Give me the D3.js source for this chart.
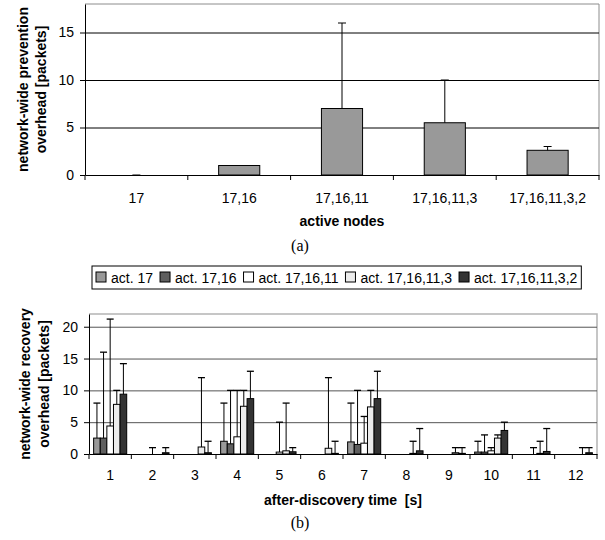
<!DOCTYPE html>
<html>
<head>
<meta charset="utf-8">
<script src="https://cdn.jsdelivr.net/npm/d3@7"></script>
<style>
  body { margin: 0; background: #fff; }
  text { font-family: Arial, "Liberation Sans", sans-serif; }
</style>
</head>
<body>
<svg id="chart" width="605" height="540"></svg>
<script>
// (a) network-wide prevention overhead
let activeNodes = ["17", "17,16", "17,16,11", "17,16,11,3", "17,16,11,3,2"];
let preventionMean = [0, 1, 7, 5.5, 2.6];
let preventionErrTop = [0, 1, 16, 10, 3];
let preventionTicks = [0, 5, 10, 15];

// (b) network-wide recovery overhead
let times = ["1", "2", "3", "4", "5", "6", "7", "8", "9", "10", "11", "12"];
let seriesNames = ["act. 17", "act. 17,16", "act. 17,16,11", "act. 17,16,11,3", "act. 17,16,11,3,2"];
let meanAct17        = [2.5, 0,   0,   2.0, 0,    0,   1.9, 0,   0,   0.3, 0,   0];
let errAct17         = [8,   0,   0,   8,   0,    0,   8,   0,   0,   2,   0,   0];
let meanAct1716      = [2.5, 0,   0,   1.6, 0,    0,   1.5, 0,   0,   0.3, 0,   0];
let errAct1716       = [16,  0,   0,   10,  0,    0,   10,  0,   0,   3,   0,   0];
let meanAct171611    = [4.4, 0,   0,   2.7, 0.3,  0,   1.7, 0,   0,   0.5, 0,   0];
let errAct171611     = [21.2, 1,  0,   10,  5,    0,   5.9, 0,   0,   1,   1,   0];
let meanAct1716113   = [7.8, 0,   1.1, 7.5, 0.5,  0.9, 7.4, 0.1, 0.2, 2.5, 0.1, 0];
let errAct1716113    = [10,  0,   12,  10,  8,    12,  10,  2,   1,   3,   2,   1];
let meanAct17161132  = [9.4, 0.2, 0.2, 8.7, 0.35, 0.1, 8.7, 0.5, 0.1, 3.7, 0.4, 0.2];
let errAct17161132   = [14.2, 1,  2,   13,  1,    2,   13,  4,   1,   5,   4,   1];
let recoveryTicks = [0, 5, 10, 15, 20];

let recMeans = [meanAct17, meanAct1716, meanAct171611, meanAct1716113, meanAct17161132];
let recErrs = [errAct17, errAct1716, errAct171611, errAct1716113, errAct17161132];
let seriesColors = ["#999999", "#5f5f5f", "#ffffff", "#ececec", "#333333"];

let svg = d3.select("#chart");

function styleAxis(g) {
  g.attr("font-family", null).attr("font-size", null);
  g.selectAll("text").style("font-size", "14px").attr("fill", "#000");
  g.selectAll("line").attr("stroke", "#000");
  g.select(".domain").attr("stroke", "#000");
}

// ---------- chart (a) ----------
let pa = {left: 85, right: 599, top: 4, bottom: 175};

let xA = d3.scaleBand()
  .domain(activeNodes)
  .range([pa.left, pa.right]);

let yA = d3.scaleLinear()
  .domain([0, 18])
  .range([pa.bottom, pa.top]);

let gA = svg.append("g");

// plot border (top + right)
gA.append("path")
  .attr("d", `M${pa.left},${pa.top}H${pa.right}V${pa.bottom}`)
  .attr("fill", "none")
  .attr("stroke", "#8c8c8c")
  .attr("stroke-width", 1);

gA.selectAll(".gridA")
  .data(preventionTicks.filter(t => t > 0))
  .join("line")
  .attr("class", "gridA")
  .attr("x1", pa.left).attr("x2", pa.right)
  .attr("y1", d => yA(d) + 0.5).attr("y2", d => yA(d) + 0.5)
  .attr("stroke", "#000");

let barsA = activeNodes.map((c, i) => ({cat: c, mean: preventionMean[i], err: preventionErrTop[i]}));

gA.selectAll(".barA")
  .data(barsA)
  .join("rect")
  .attr("class", "barA")
  .attr("x", d => xA(d.cat) + xA.bandwidth() * 0.3)
  .attr("width", xA.bandwidth() * 0.4)
  .attr("y", d => yA(d.mean))
  .attr("height", d => yA(0) - yA(d.mean))
  .attr("fill", "#999999")
  .attr("stroke", "#000")
  .attr("stroke-width", 1);

gA.selectAll(".errA")
  .data(barsA)
  .join("line")
  .attr("class", "errA")
  .attr("x1", d => xA(d.cat) + xA.bandwidth() / 2)
  .attr("x2", d => xA(d.cat) + xA.bandwidth() / 2)
  .attr("y1", d => yA(d.mean)).attr("y2", d => yA(d.err))
  .attr("stroke", "#000");

gA.selectAll(".capA")
  .data(barsA)
  .join("line")
  .attr("class", "capA")
  .attr("x1", d => xA(d.cat) + xA.bandwidth() / 2 - 4)
  .attr("x2", d => xA(d.cat) + xA.bandwidth() / 2 + 4)
  .attr("y1", d => yA(d.err)).attr("y2", d => yA(d.err))
  .attr("stroke", "#000");

gA.append("g")
  .attr("transform", `translate(${pa.left},0)`)
  .call(d3.axisLeft(yA).tickValues(preventionTicks).tickSize(5).tickSizeOuter(0).tickPadding(6))
  .call(styleAxis);

gA.append("g")
  .attr("transform", `translate(0,${pa.bottom})`)
  .call(d3.axisBottom(xA).tickSize(0).tickSizeOuter(0).tickPadding(18))
  .call(styleAxis);

gA.selectAll(".tickA")
  .data(activeNodes.map(c => xA(c)).concat([pa.right]))
  .join("line")
  .attr("class", "tickA")
  .attr("x1", d => d).attr("x2", d => d)
  .attr("y1", pa.bottom).attr("y2", pa.bottom + 5)
  .attr("stroke", "#000");

let ylabA = gA.append("text")
  .attr("transform", `translate(0,${(pa.top + pa.bottom) / 2}) rotate(-90)`)
  .attr("text-anchor", "middle")
  .style("font-size", "14px")
  .style("font-weight", "bold");
ylabA.append("tspan").attr("x", 0).attr("y", 28).text("network-wide prevention");
ylabA.append("tspan").attr("x", 0).attr("y", 46).text("overhead [packets]");

gA.append("text")
  .attr("x", (pa.left + pa.right) / 2)
  .attr("y", 226)
  .attr("text-anchor", "middle")
  .style("font-size", "14px")
  .style("font-weight", "bold")
  .text("active nodes");

gA.append("text")
  .attr("x", 300)
  .attr("y", 251)
  .attr("text-anchor", "middle")
  .style("font-family", "'Liberation Serif', 'Times New Roman', serif")
  .style("font-size", "16px")
  .text("(a)");

// ---------- legend ----------
let legend = svg.append("g");
let legendBox = legend.append("rect")
  .attr("x", 92).attr("y", 266)
  .attr("height", 23)
  .attr("fill", "#fff")
  .attr("stroke", "#000");

let lx = 96;
seriesNames.forEach((name, i) => {
  legend.append("rect")
    .attr("x", lx).attr("y", 272)
    .attr("width", 10).attr("height", 10)
    .attr("fill", seriesColors[i])
    .attr("stroke", "#000");
  let t = legend.append("text")
    .attr("x", lx + 15).attr("y", 282.5)
    .style("font-size", "14px")
    .text(name);
  lx += 15 + t.node().getComputedTextLength() + 7;
});
legendBox.attr("width", lx - 92 - 3);

// ---------- chart (b) ----------
let pb = {left: 89, right: 597, top: 314, bottom: 454};

let xB = d3.scaleBand()
  .domain(times)
  .range([pb.left, pb.right]);

let xSeries = d3.scaleBand()
  .domain(seriesNames)
  .range([0, xB.bandwidth()])
  .paddingOuter(0.7);

let yB = d3.scaleLinear()
  .domain([0, 22])
  .range([pb.bottom, pb.top]);

let gB = svg.append("g");

gB.append("path")
  .attr("d", `M${pb.left},${pb.top}H${pb.right}V${pb.bottom}`)
  .attr("fill", "none")
  .attr("stroke", "#b4b4b4")
  .attr("stroke-width", 1.5);

gB.selectAll(".gridB")
  .data(recoveryTicks.filter(t => t > 0))
  .join("line")
  .attr("class", "gridB")
  .attr("x1", pb.left).attr("x2", pb.right)
  .attr("y1", d => yB(d) + 0.5).attr("y2", d => yB(d) + 0.5)
  .attr("stroke", "#555");

let barsB = [];
times.forEach((t, ti) => {
  seriesNames.forEach((s, si) => {
    barsB.push({time: t, series: s, color: seriesColors[si], mean: recMeans[si][ti], err: recErrs[si][ti]});
  });
});

gB.selectAll(".barB")
  .data(barsB)
  .join("rect")
  .attr("class", "barB")
  .attr("x", d => xB(d.time) + xSeries(d.series))
  .attr("width", xSeries.bandwidth())
  .attr("y", d => yB(d.mean))
  .attr("height", d => yB(0) - yB(d.mean))
  .attr("fill", d => d.color)
  .attr("stroke", "#000")
  .attr("stroke-width", 1);

let errB = barsB.filter(d => d.err > 0);

gB.selectAll(".errB")
  .data(errB)
  .join("line")
  .attr("class", "errB")
  .attr("x1", d => xB(d.time) + xSeries(d.series) + xSeries.bandwidth() / 2)
  .attr("x2", d => xB(d.time) + xSeries(d.series) + xSeries.bandwidth() / 2)
  .attr("y1", d => yB(d.mean)).attr("y2", d => yB(d.err))
  .attr("stroke", "#000");

gB.selectAll(".capB")
  .data(errB)
  .join("line")
  .attr("class", "capB")
  .attr("x1", d => xB(d.time) + xSeries(d.series) + xSeries.bandwidth() / 2 - 3.5)
  .attr("x2", d => xB(d.time) + xSeries(d.series) + xSeries.bandwidth() / 2 + 3.5)
  .attr("y1", d => yB(d.err)).attr("y2", d => yB(d.err))
  .attr("stroke", "#000")
  .attr("stroke-width", 1.3);

gB.append("g")
  .attr("transform", `translate(${pb.left},0)`)
  .call(d3.axisLeft(yB).tickValues(recoveryTicks).tickSize(5).tickSizeOuter(0).tickPadding(6))
  .call(styleAxis);

gB.append("g")
  .attr("transform", `translate(0,${pb.bottom})`)
  .call(d3.axisBottom(xB).tickSize(0).tickSizeOuter(0).tickPadding(16))
  .call(styleAxis);

gB.selectAll(".tickB")
  .data(times.map(t => xB(t)).concat([pb.right]))
  .join("line")
  .attr("class", "tickB")
  .attr("x1", d => d).attr("x2", d => d)
  .attr("y1", pb.bottom).attr("y2", pb.bottom + 5)
  .attr("stroke", "#000");

let ylabB = gB.append("text")
  .attr("transform", `translate(0,${(pb.top + pb.bottom) / 2}) rotate(-90)`)
  .attr("text-anchor", "middle")
  .style("font-size", "14px")
  .style("font-weight", "bold");
ylabB.append("tspan").attr("x", 0).attr("y", 30).text("network-wide recovery");
ylabB.append("tspan").attr("x", 0).attr("y", 49).text("overhead [packets]");

gB.append("text")
  .attr("x", (pb.left + pb.right) / 2)
  .attr("y", 505)
  .attr("text-anchor", "middle")
  .style("font-size", "14px")
  .style("font-weight", "bold")
  .style("white-space", "pre")
  .text("after-discovery time  [s]");

gB.append("text")
  .attr("x", 300)
  .attr("y", 528)
  .attr("text-anchor", "middle")
  .style("font-family", "'Liberation Serif', 'Times New Roman', serif")
  .style("font-size", "16px")
  .text("(b)");
</script>
</body>
</html>
